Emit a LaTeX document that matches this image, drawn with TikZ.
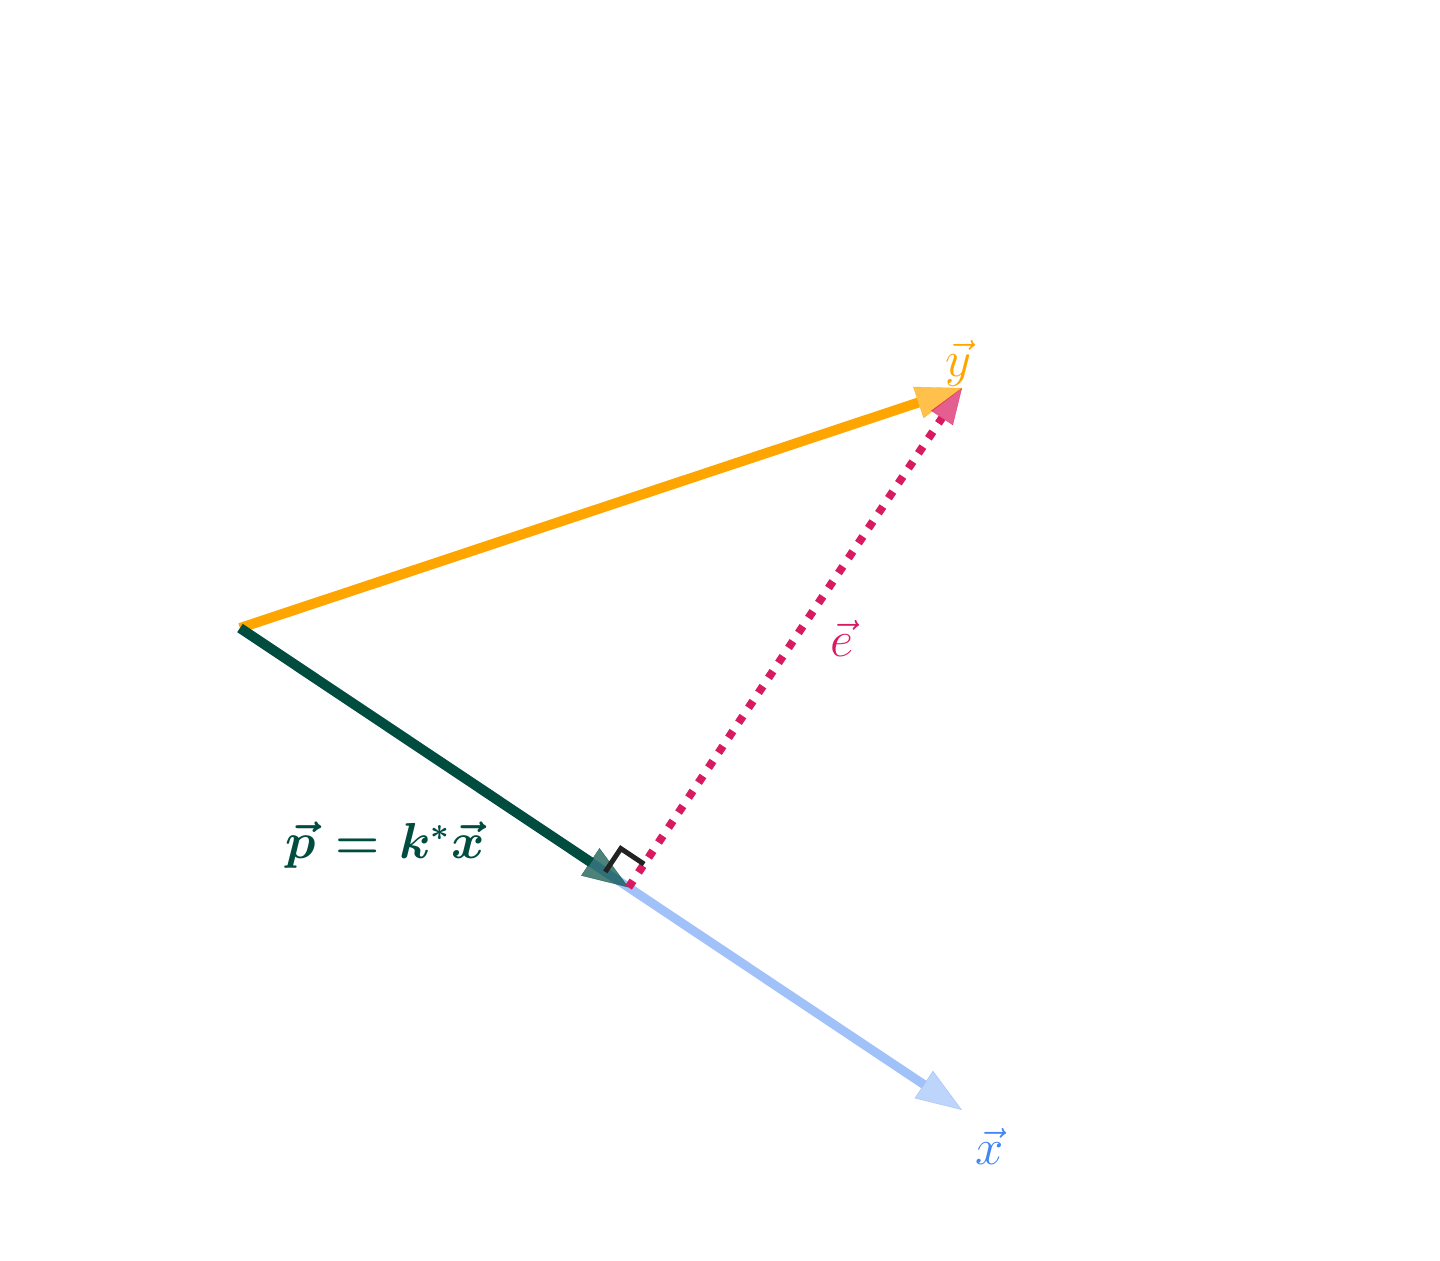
\documentclass[tikz,border=0pt]{standalone}
\usepackage{amsmath,amssymb}
\usepackage{bm}
\usepackage{tikz}
\usetikzlibrary{calc, arrows.meta}
\usepackage{xcolor}

\definecolor{yorange}{HTML}{FFA500}
\definecolor{pgreen}{HTML}{004D40}
\definecolor{xblue}{HTML}{4285F4}
\definecolor{emag}{HTML}{D81B60}
\definecolor{rdark}{HTML}{222222}

\tikzset{
    vec/.style={line width=1mm},
    head/.style={-{Triangle[length=4.6mm, width=3.3mm]}, line width=0.1pt},
    lbl/.style={font=\fontsize{15}{18}\selectfont, inner sep=0pt},
}

\begin{document}
\begin{tikzpicture}
    \useasboundingbox (0,0) rectangle (14.4,-12.6);

    \coordinate (O) at (2.40,-6.28);
    \coordinate (Y) at (9.62,-3.88);
    \coordinate (X) at (9.62,-11.10);
    \coordinate (P) at ($(O)!(Y)!(X)$);

    \coordinate (yb) at ($(Y)!4.6mm!(O)$);
    \coordinate (xb) at ($(X)!4.6mm!(O)$);
    \coordinate (pb) at ($(P)!4.5mm!(O)$);
    \coordinate (eb) at ($(Y)!3.6mm!(P)$);

    % x, then y, then p
    \draw[vec, line width=0.9mm, xblue, opacity=0.5] (O) -- (xb);
    \draw[head, xblue, opacity=0.35] (xb) -- (X);
    \draw[vec, yorange] (O) -- (yb);
    \draw[head, yorange, opacity=0.7] (yb) -- (Y);
    \draw[vec, pgreen] (O) -- (pb);
    \draw[head, pgreen, opacity=0.7] (pb) -- (P);

    % error vector
    \draw[emag, line width=0.8mm, dash pattern=on 0.8mm off 1mm] (P) -- (eb);
    \draw[-{Triangle[length=3.6mm, width=2.6mm]}, line width=0.1pt, emag, opacity=0.7] (eb) -- (Y);

    % right angle
    \coordinate (r1) at ($(P)!2.8mm!(O)$);
    \coordinate (r2) at ($(P)!2.8mm!(Y)$);
    \coordinate (rc) at ($(r1)+(r2)-(P)$);
    \draw[rdark, line width=0.5mm] (r1) -- (rc) -- (r2);

    \node[lbl, text=yorange] (ylbl) at (9.58,-3.63) {$\vec{y}$};
    \node[lbl, text=xblue] (xlbl) at (9.90,-11.46) {$\vec{x}$};
    \node[lbl, text=emag] (elbl) at (8.42,-6.38) {$\vec{e}$};
    \node[lbl, font=\fontsize{13.5}{16}\selectfont, text=pgreen] (plbl) at (3.85,-8.45) {$\bm{\vec{p}}\mkern2mu\mathrel{\bm{=}}\mkern2mu\bm{k^{*}\vec{x}}$};
\end{tikzpicture}
\end{document}
